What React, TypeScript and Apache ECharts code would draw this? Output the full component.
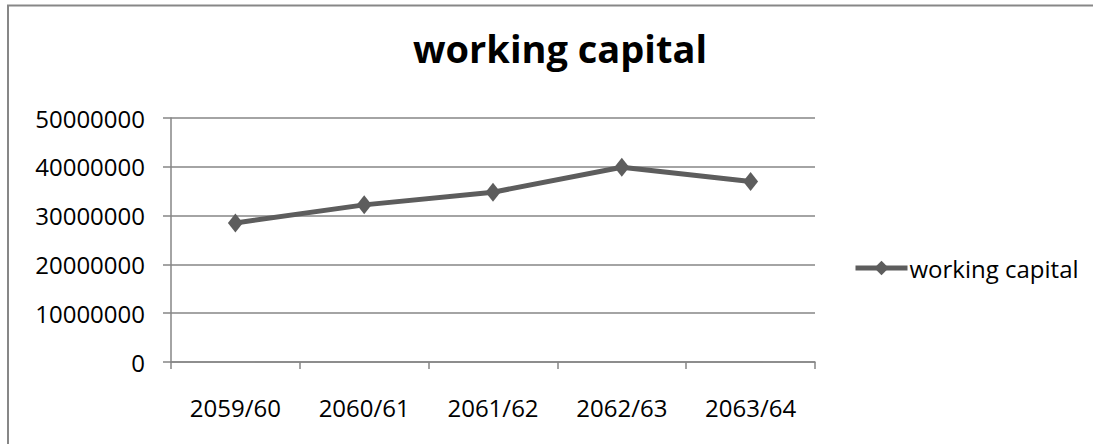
import React, { useEffect, useRef } from "react";
import * as echarts from "echarts";

const categories: string[] = ["2059/60", "2060/61", "2061/62", "2062/63", "2063/64"];
const workingCapital: number[] = [28500000, 32200000, 34800000, 39900000, 37000000];
const seriesName = "working capital";
const chartTitle = "working capital";
const yMin = 0;
const yMax = 50000000;
const yInterval = 10000000;

const FONT = "'Open Sans', 'Liberation Sans', sans-serif";

export default function App() {
  const ref = useRef<HTMLDivElement>(null);
  useEffect(() => {
    if (!ref.current) return;
    const chart = echarts.init(ref.current, undefined, { renderer: "svg" });
    chart.setOption({
      animation: false,
      backgroundColor: "#ffffff",
      textStyle: { fontFamily: FONT },
      title: {
        text: chartTitle,
        left: 555,
        top: 24,
        textAlign: "center",
        textStyle: { fontFamily: FONT, fontWeight: "bold", fontSize: 38, color: "#000000" },
      },
      graphic: [
        {
          type: "rect",
          shape: { x: 8, y: 5.5, width: 1100, height: 460 },
          style: { fill: "none", stroke: "#878787", lineWidth: 2 },
          silent: true,
          z: 100,
        },
      ],
      legend: {
        left: 848,
        top: 251,
        itemWidth: 52,
        itemHeight: 18,
        itemGap: 0,
        lineStyle: { width: 5, color: "#5d5d5d" },
        textStyle: { fontFamily: FONT, fontSize: 24, color: "#000000", padding: [0, 0, 0, -3] },
        data: [seriesName],
      },
      grid: { left: 171, right: 1093 - 815, top: 118, bottom: 444 - 362, containLabel: false },
      xAxis: {
        type: "category",
        data: categories,
        boundaryGap: true,
        axisLine: { lineStyle: { color: "#868686", width: 1.5 } },
        axisTick: { show: true, length: 7, lineStyle: { color: "#868686", width: 1.5 } },
        axisLabel: { color: "#000000", fontSize: 24, fontFamily: FONT, margin: 33 },
        splitLine: { show: false },
      },
      yAxis: {
        type: "value",
        min: yMin,
        max: yMax,
        interval: yInterval,
        axisLine: { show: true, lineStyle: { color: "#868686", width: 1.5 } },
        axisTick: { show: true, length: 8, lineStyle: { color: "#868686", width: 1.5 } },
        axisLabel: {
          color: "#000000",
          fontSize: 24,
          fontFamily: FONT,
          margin: 26,
          formatter: (v: number) => String(v),
        },
        splitLine: { show: true, lineStyle: { color: "#868686", width: 1.5 } },
      },
      series: [
        {
          name: seriesName,
          type: "line",
          data: workingCapital,
          symbol: "diamond",
          symbolSize: [15, 19],
          lineStyle: { color: "#5d5d5d", width: 5 },
          itemStyle: { color: "#5d5d5d" },
        },
      ],
    });
    return () => chart.dispose();
  }, []);
  return (
    <div
      ref={ref}
      style={{ position: "absolute", left: 0, top: 0, width: 1093, height: 444 }}
    />
  );
}
